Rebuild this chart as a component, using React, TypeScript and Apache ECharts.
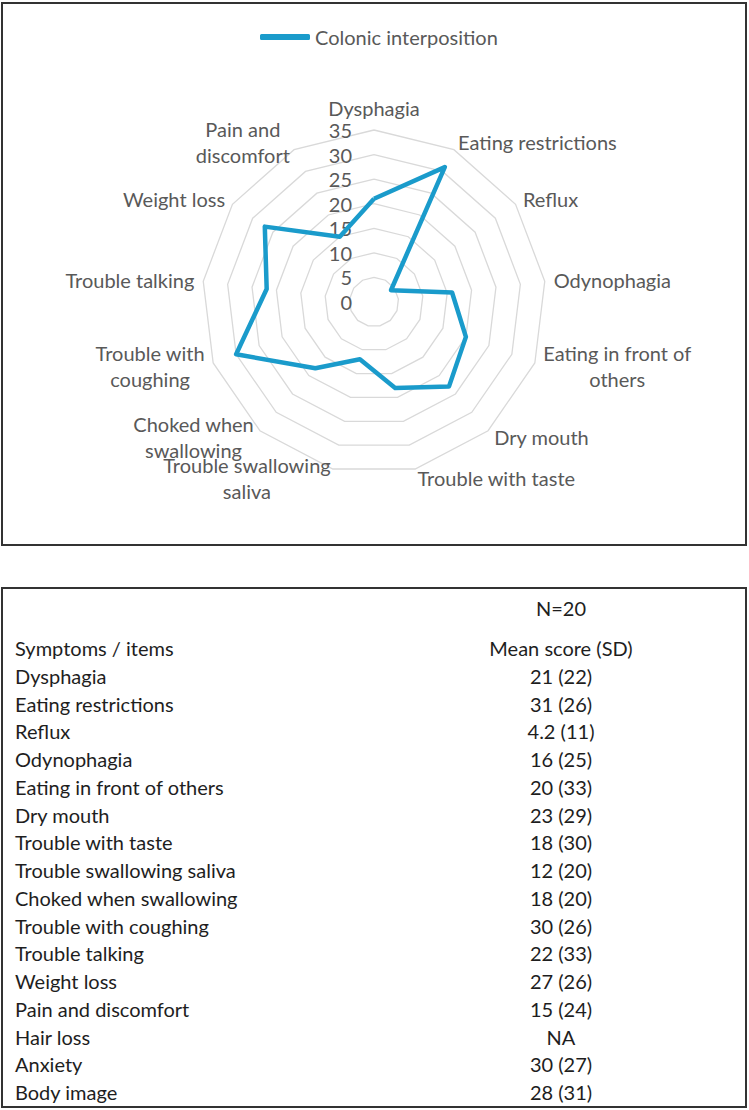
import React, { useEffect, useRef } from "react";
import * as echarts from "echarts";

// Symptom items, in table order
const symptoms = [
  "Dysphagia",
  "Eating restrictions",
  "Reflux",
  "Odynophagia",
  "Eating in front of others",
  "Dry mouth",
  "Trouble with taste",
  "Trouble swallowing saliva",
  "Choked when swallowing",
  "Trouble with coughing",
  "Trouble talking",
  "Weight loss",
  "Pain and discomfort",
  "Hair loss",
  "Anxiety",
  "Body image",
];
// Mean score and SD per item (null = not available)
const meanScores: (number | null)[] = [21, 31, 4.2, 16, 20, 23, 18, 12, 18, 30, 22, 27, 15, null, 30, 28];
const sdScores: (number | null)[] = [22, 26, 11, 25, 33, 29, 30, 20, 20, 26, 33, 26, 24, null, 27, 31];

// Radar axes: the first 13 items, with wrapped names
const radarLabels = [
  "Dysphagia",
  "Eating restrictions",
  "Reflux",
  "Odynophagia",
  "Eating in front of\nothers",
  "Dry mouth",
  "Trouble with taste",
  "Trouble swallowing\nsaliva",
  "Choked when\nswallowing",
  "Trouble with\ncoughing",
  "Trouble talking",
  "Weight loss",
  "Pain and\ndiscomfort",
];
const radarMax = 35;
const seriesName = "Colonic interposition";
const sampleSize = "N=20";
const headerLeft = "Symptoms / items";
const headerRight = "Mean score (SD)";

const FONT = "Lato, 'Liberation Sans', sans-serif";
const LABEL_COLOR = "#595959";
const TABLE_COLOR = "#1e1e1e";
const LINE_COLOR = "#1a9bcb";

export default function App() {
  const ref = useRef<HTMLDivElement>(null);

  useEffect(() => {
    if (!ref.current) return;
    const chart = echarts.init(ref.current, undefined, { renderer: "svg" });

    // ECharts lays radar axes out counter-clockwise; keep the first axis on top
    // and reverse the rest so the items run clockwise.
    const n = radarLabels.length;
    const order = [0, ...Array.from({ length: n - 1 }, (_, k) => n - 1 - k)];
    const indicators = order.map((i, k) => ({
      name: radarLabels[i],
      min: 0,
      max: radarMax,
      ...(k === 0 ? { axisLabel: { show: true } } : {}),
    }));
    const values = order.map((i) => meanScores[i] as number);

    const tableTexts: any[] = [];
    const rowX = 15;
    const valueX = 561;
    const firstRowY = 648;
    const rowStep = 27.75;
    const textStyle = (text: string, align: string) => ({
      text,
      fill: TABLE_COLOR,
      font: `20px ${FONT}`,
      textAlign: align,
      textVerticalAlign: "middle",
    });
    tableTexts.push({ type: "text", x: valueX, y: 608, style: textStyle(sampleSize, "center") });
    const rows = [[headerLeft, headerRight]].concat(
      symptoms.map((s, i) => [
        s,
        meanScores[i] == null ? "NA" : `${meanScores[i]} (${sdScores[i]})`,
      ])
    );
    rows.forEach((r, i) => {
      const y = firstRowY + i * rowStep;
      tableTexts.push({ type: "text", x: rowX, y, style: textStyle(r[0], "left") });
      tableTexts.push({ type: "text", x: valueX, y, style: textStyle(r[1], "center") });
    });

    chart.setOption({
      animation: false,
      backgroundColor: "#ffffff",
      legend: {
        data: [seriesName],
        left: 260,
        top: 27,
        padding: 0,
        icon: "roundRect",
        itemWidth: 50,
        itemHeight: 6,
        textStyle: { color: LABEL_COLOR, fontSize: 20, fontFamily: FONT },
      },
      radar: {
        center: [374, 302],
        radius: 172,
        startAngle: 90,
        splitNumber: 7,
        shape: "polygon",
        nameGap: 9,
        axisName: {
          color: LABEL_COLOR,
          fontSize: 20,
          fontFamily: FONT,
          formatter: (name: string) =>
            name
              .split("\n")
              .map((l) => `{c|${l}}`)
              .join("\n"),
          rich: {
            c: { align: "center", color: LABEL_COLOR, fontSize: 20, fontFamily: FONT, lineHeight: 26 },
          },
        },
        axisLine: { show: false },
        axisTick: { show: false },
        splitArea: { show: false },
        splitLine: { lineStyle: { color: "#d9d9d9", width: 1.3 } },
        axisLabel: {
          show: false,
          color: LABEL_COLOR,
          fontSize: 20,
          fontFamily: FONT,
          margin: 22,
        },
        indicator: indicators,
      },
      series: [
        {
          type: "radar",
          name: seriesName,
          symbol: "none",
          lineStyle: { color: LINE_COLOR, width: 4.5 },
          itemStyle: { color: LINE_COLOR },
          data: [{ name: seriesName, value: values }],
        },
      ],
      graphic: [
        {
          type: "rect",
          shape: { x: 2, y: 3, width: 744, height: 542 },
          style: { fill: "none", stroke: "#333", lineWidth: 2 },
        },
        {
          type: "rect",
          shape: { x: 2, y: 588, width: 744, height: 519 },
          style: { fill: "none", stroke: "#333", lineWidth: 2 },
        },
        ...tableTexts,
      ],
    });

    return () => chart.dispose();
  }, []);

  return (
    <div
      ref={ref}
      style={{ position: "absolute", left: 0, top: 0, width: 749, height: 1110, background: "#fff" }}
    />
  );
}
